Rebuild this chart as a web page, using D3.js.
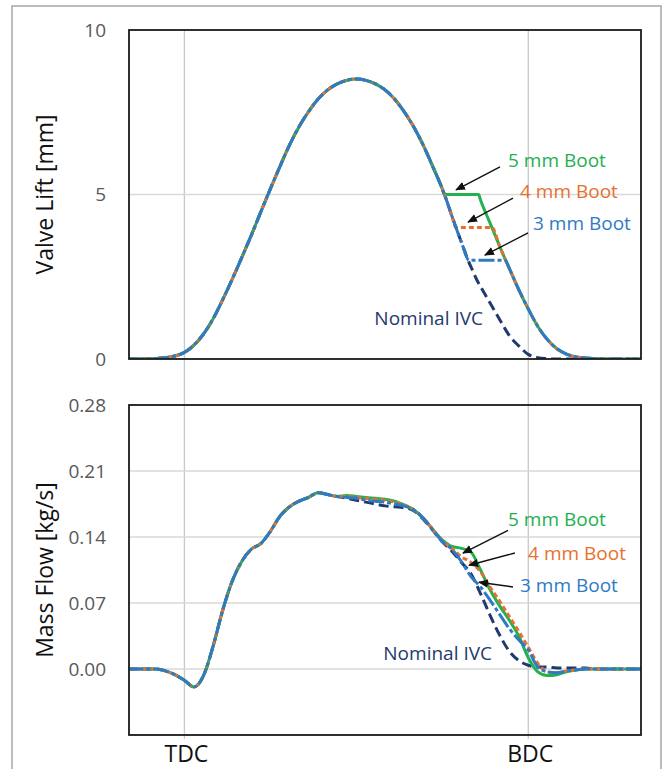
<!DOCTYPE html>
<html>
<head>
<meta charset="utf-8">
<script src="https://cdn.jsdelivr.net/npm/d3@7"></script>
<style>
  html, body { margin: 0; padding: 0; background: #fff; }
  svg { display: block; font-family: "Open Sans", sans-serif; }
</style>
</head>
<body>
<script>
// crank angle [deg], TDC = 360, BDC = 540
const tdcAngle = 360;
const bdcAngle = 540;

// ---- valve lift [mm] ----
const liftAngle = [330, 335, 340, 345, 350, 355, 360, 365, 370, 375, 380, 385, 390, 395, 400, 405, 410,
  415, 420, 425, 430, 435, 440, 445, 450, 455, 460, 465, 470, 475, 480, 485, 490, 495,
  496, 500, 502, 505, 509, 510, 514, 515, 520, 521, 525, 528, 530,
  535, 540, 545, 550, 555, 560, 565, 570, 575, 580, 585, 590, 595, 600];

// shared opening ramp (330..495)
const liftRise = [0, 0, 0, 0.015, 0.04, 0.09, 0.2, 0.42, 0.76, 1.22, 1.8, 2.42, 3.08, 3.76, 4.47, 5.17, 5.85,
  6.5, 7.06, 7.52, 7.9, 8.18, 8.36, 8.47, 8.51, 8.47, 8.36, 8.18, 7.9, 7.52, 7.06, 6.5, 5.85, 5.17];

const liftNominal = liftRise.concat([5.02, 4.35, 4.02, 3.55, 2.93, 2.8, 2.3, 2.2, 1.7, 1.6, 1.2, 0.9, 0.72,
  0.4, 0.14, 0.04, 0.01, 0, 0, 0, 0, 0, 0, 0, 0, 0, 0]);
const lift5mm = liftRise.concat([5, 5, 5, 5, 5, 5, 5, 4.83, 4.13, 3.99, 3.43, 3.02, 2.76,
  2.11, 1.52, 0.99, 0.59, 0.31, 0.15, 0.065, 0.03, 0.01, 0, 0, 0, 0, 0]);
const lift4mm = liftRise.concat([5.02, 4.35, 4, 4, 4, 4, 4, 4, 4, 4, 3.43, 3.02, 2.76,
  2.11, 1.52, 0.99, 0.59, 0.31, 0.15, 0.065, 0.03, 0.01, 0, 0, 0, 0, 0]);
const lift3mm = liftRise.concat([5.02, 4.35, 4.02, 3.55, 3, 3, 3, 3, 3, 3, 3, 3, 2.76,
  2.11, 1.52, 0.99, 0.59, 0.31, 0.15, 0.065, 0.03, 0.01, 0, 0, 0, 0, 0]);

// ---- mass flow [kg/s] ----
const flowAngle = d3.range(330, 601, 5);

// shared part (330..440)
const flowRise = [0, 0, 0, 0, -0.002, -0.006, -0.012, -0.019, -0.007, 0.024, 0.062, 0.093, 0.114,
  0.127, 0.133, 0.146, 0.162, 0.172, 0.178, 0.182, 0.187, 0.185, 0.183];

const flowNominal = flowRise.concat([0.181, 0.179, 0.177, 0.175, 0.173, 0.172, 0.171, 0.168, 0.159, 0.147,
  0.135, 0.125, 0.113, 0.101, 0.080, 0.057, 0.036, 0.019, 0.009, 0.004, 0.002, 0.002, 0.001, 0.001,
  0.001, 0.001, 0, 0, 0, 0, 0, 0]);
const flow5mm = flowRise.concat([0.184, 0.183, 0.182, 0.181, 0.180, 0.178, 0.174, 0.169, 0.160, 0.148,
  0.137, 0.130, 0.128, 0.124, 0.105, 0.084, 0.067, 0.052, 0.035, 0.012, -0.003, -0.007, -0.006, -0.003,
  -0.001, 0, 0, 0, 0, 0, 0, 0]);
const flow4mm = flowRise.concat([0.183, 0.182, 0.181, 0.180, 0.179, 0.177, 0.174, 0.169, 0.160, 0.148,
  0.136, 0.128, 0.119, 0.113, 0.103, 0.087, 0.072, 0.056, 0.040, 0.023, 0.006, -0.003, -0.004, -0.002,
  -0.001, 0, 0, 0, 0, 0, 0, 0]);
const flow3mm = flowRise.concat([0.182, 0.181, 0.179, 0.178, 0.177, 0.175, 0.173, 0.169, 0.160, 0.148,
  0.135, 0.127, 0.114, 0.098, 0.087, 0.073, 0.058, 0.043, 0.031, 0.020, 0.002, -0.003, -0.004, -0.002,
  -0.001, 0, 0, 0, 0, 0, 0, 0]);

const liftTicks = [0, 5, 10];
const flowTicks = [0, 0.07, 0.14, 0.21, 0.28];
const seriesNames = ["Nominal IVC", "5 mm Boot", "4 mm Boot", "3 mm Boot"];

// annotation anchors in data units: [label x, label y, arrow from x, y, arrow to x, y]
const liftNotes = [
  [529.4, 6.05, 525.2, 5.84, 502.2, 5.14],
  [535.7, 5.11, 532.0, 4.89, 508.5, 4.16],
  [542.5, 4.13, 539.9, 3.83, 517.3, 3.16]
];
const flowNotes = [
  [529.4, 0.159, 529.4, 0.147, 505.8, 0.123],
  [539.9, 0.123, 533.0, 0.123, 509.0, 0.110],
  [535.7, 0.089, 532.0, 0.087, 514.2, 0.092]
];
const nominalLiftLabel = [516.3, 1.25];
const nominalFlowLabel = [521.0, 0.017];

// ---- drawing ----
const width = 665, height = 769;
const colors = ["#1f3a6e", "#23b04f", "#e8702e", "#2e7bc4"];
const dashes = ["10,5", null, "5,3", "16,3,4,3"];

const svg = d3.select("body").append("svg")
  .attr("width", width)
  .attr("height", height);

svg.append("rect")
  .attr("x", 12).attr("y", 6)
  .attr("width", 649).attr("height", 790)
  .attr("fill", "#fff")
  .attr("stroke", "#a6a6a6")
  .attr("stroke-width", 1.5);

const x = d3.scaleLinear().domain([331, 599]).range([129, 641]);
const yLift = d3.scaleLinear().domain([0, 10]).range([359, 30]);
const yFlow = d3.scaleLinear().domain([-0.07, 0.28]).range([735, 405]);

const defs = svg.append("defs");
defs.append("marker")
  .attr("id", "arrow")
  .attr("viewBox", "0 0 10 10")
  .attr("refX", 9).attr("refY", 5)
  .attr("markerWidth", 10).attr("markerHeight", 10)
  .attr("markerUnits", "userSpaceOnUse")
  .attr("orient", "auto")
  .append("path")
  .attr("d", "M0,0.8 L10,5 L0,9.2 Z")
  .attr("fill", "#111");

function panel(id, y, ticks, tickFmt, gridTicks, series, notes, nomLabel, title) {
  const [y0, y1] = y.range();
  const g = svg.append("g");

  defs.append("clipPath").attr("id", id)
    .append("rect")
    .attr("x", x.range()[0]).attr("y", y1)
    .attr("width", x.range()[1] - x.range()[0]).attr("height", y0 - y1);

  g.append("g")
    .selectAll("line")
    .data(gridTicks)
    .join("line")
    .attr("x1", x.range()[0]).attr("x2", x.range()[1])
    .attr("y1", d => y(d)).attr("y2", d => y(d))
    .attr("stroke", "#d9d9d9")
    .attr("stroke-width", 1.3);

  const axis = g.append("g")
    .attr("transform", `translate(${x.range()[0] - 20},0)`)
    .call(d3.axisLeft(y).tickValues(ticks).tickFormat(tickFmt).tickSize(0).tickPadding(3));
  axis.select(".domain").remove();
  axis.selectAll("text")
    .attr("fill", "#595959")
    .style("font-size", "19px")
    .style("font-family", "Open Sans, sans-serif");

  g.append("text")
    .attr("transform", `translate(45,${(y0 + y1) / 2}) rotate(-90)`)
    .attr("text-anchor", "middle")
    .attr("dy", "0.35em")
    .attr("fill", "#111")
    .style("font-size", "23px")
    .text(title);

  const line = d3.line()
    .x(d => x(d[0]))
    .y(d => y(d[1]))
    .curve(d3.curveMonotoneX);

  g.append("g")
    .attr("clip-path", `url(#${id})`)
    .selectAll("path")
    .data(series)
    .join("path")
    .attr("d", d => line(d))
    .attr("fill", "none")
    .attr("stroke", (d, i) => colors[i])
    .attr("stroke-dasharray", (d, i) => dashes[i])
    .attr("stroke-width", 3)
    .attr("stroke-linejoin", "round");

  g.append("rect")
    .attr("x", x.range()[0]).attr("y", y1)
    .attr("width", x.range()[1] - x.range()[0]).attr("height", y0 - y1)
    .attr("fill", "none")
    .attr("stroke", "#1a1a1a")
    .attr("stroke-width", 1.8);

  g.append("g")
    .selectAll("line")
    .data(notes)
    .join("line")
    .attr("x1", d => x(d[2])).attr("y1", d => y(d[3]))
    .attr("x2", d => x(d[4])).attr("y2", d => y(d[5]))
    .attr("stroke", "#111")
    .attr("stroke-width", 1.4)
    .attr("marker-end", "url(#arrow)");

  g.append("g")
    .selectAll("text")
    .data(notes)
    .join("text")
    .attr("x", d => x(d[0]))
    .attr("y", d => y(d[1]))
    .attr("dy", "0.35em")
    .attr("fill", (d, i) => colors[i + 1])
    .style("font-size", "19px")
    .text((d, i) => seriesNames[i + 1]);

  g.append("text")
    .attr("x", x(nomLabel[0]))
    .attr("y", y(nomLabel[1]))
    .attr("dy", "0.35em")
    .attr("text-anchor", "end")
    .attr("fill", colors[0])
    .style("font-size", "19px")
    .text(seriesNames[0]);
}

// vertical TDC / BDC lines run through both panels
svg.append("g")
  .selectAll("line")
  .data([tdcAngle, bdcAngle])
  .join("line")
  .attr("x1", d => x(d)).attr("x2", d => x(d))
  .attr("y1", yLift.range()[1]).attr("y2", 739)
  .attr("stroke", "#c8c8c8")
  .attr("stroke-width", 1.3);

const zipLift = v => liftAngle.map((a, i) => [a, v[i]]);
const zipFlow = v => flowAngle.map((a, i) => [a, v[i]]);

panel("clipLift", yLift, liftTicks, d3.format("d"), [5],
  [liftNominal, lift5mm, lift4mm, lift3mm].map(zipLift),
  liftNotes, nominalLiftLabel, "Valve Lift [mm]");

panel("clipFlow", yFlow, flowTicks, d3.format(".2f"), [0, 0.07, 0.14, 0.21],
  [flowNominal, flow5mm, flow4mm, flow3mm].map(zipFlow),
  flowNotes, nominalFlowLabel, "Mass Flow [kg/s]");

svg.append("g")
  .selectAll("text")
  .data([["TDC", tdcAngle], ["BDC", bdcAngle]])
  .join("text")
  .attr("x", d => x(d[1]) + 2)
  .attr("y", 762)
  .attr("text-anchor", "middle")
  .attr("fill", "#111")
  .style("font-size", "23px")
  .text(d => d[0]);
</script>
</body>
</html>
